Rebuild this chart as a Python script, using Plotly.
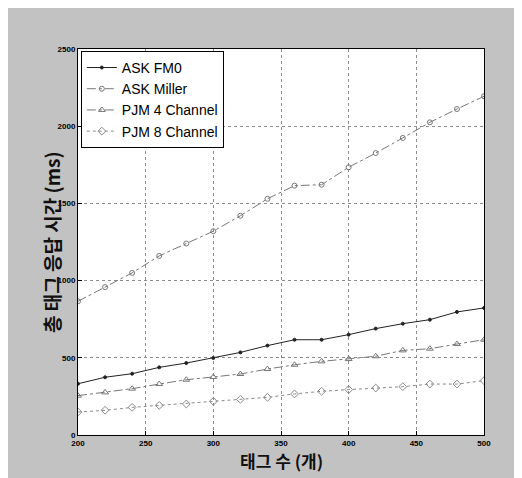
import plotly.graph_objects as go

tags = [200, 220, 240, 260, 280, 300, 320, 340, 360, 380, 400, 420, 440, 460, 480, 500]
ask_fm0 = [332, 374, 397, 438, 466, 499, 535, 579, 617, 617, 650, 689, 721, 747, 797, 823]
ask_miller = [866, 958, 1050, 1160, 1240, 1320, 1420, 1530, 1615, 1621, 1734, 1826, 1924, 2025, 2111, 2194]
pjm4 = [255, 276, 300, 330, 358, 376, 395, 427, 455, 477, 492, 510, 548, 559, 589, 617]
pjm8 = [149, 160, 179, 192, 201, 218, 231, 244, 266, 283, 294, 304, 313, 330, 330, 352]

x_ticks = [200, 250, 300, 350, 400, 450, 500]
y_ticks = [0, 500, 1000, 1500, 2000, 2500]

series = [
    ("ASK FM0", ask_fm0, "#222222", "solid", "circle", 3),
    ("ASK Miller", ask_miller, "#777777", "dashdot", "circle-open", 5),
    ("PJM 4 Channel", pjm4, "#777777", "dashdot", "triangle-up-open", 6),
    ("PJM 8 Channel", pjm8, "#8a8a8a", "dot", "diamond-open", 6),
]

fig = go.Figure()
for name, vals, col, dash, sym, size in series:
    fig.add_trace(go.Scatter(
        x=tags, y=vals, name=name, mode="lines+markers",
        line=dict(color=col, width=1, dash=dash),
        marker=dict(symbol=sym, size=size, color=col, line=dict(color=col, width=1)),
    ))

axis_common = dict(
    showline=True, linecolor="black", linewidth=1, mirror=True,
    ticks="inside", ticklen=4, tickcolor="black",
    showgrid=True, gridcolor="#8c8c8c", griddash="dot", gridwidth=1,
    tickfont=dict(family="Arial", size=8, color="black"),
    zeroline=False,
)

fig.update_layout(
    width=522, height=478,
    margin=dict(l=70, r=46, t=41, b=51),
    paper_bgcolor="#c2c2c2",
    plot_bgcolor="white",
    showlegend=True,
    legend=dict(
        x=0.007, y=0.995, xanchor="left", yanchor="top",
        bgcolor="white", bordercolor="black", borderwidth=1,
        font=dict(family="Arial", size=14, color="black"),
        tracegroupgap=0, itemwidth=30,
    ),
    xaxis=dict(range=[200, 500], tickvals=x_ticks,
               ticktext=["<b>%d</b>" % v for v in x_ticks], **axis_common),
    yaxis=dict(range=[0, 2500], tickvals=y_ticks,
               ticktext=["<b>%d</b>" % v for v in y_ticks], **axis_common),
    annotations=[
        dict(text="<b>태그 수 (개)</b>", xref="paper", yref="paper", x=0.5, y=0,
             xanchor="center", yanchor="middle", yshift=-25, showarrow=False,
             font=dict(family="Noto Sans CJK KR", size=17, color="#111111")),
        dict(text="<b>총 태그 응답 시간 (ms)</b>", xref="paper", yref="paper", x=0, y=0.5,
             xanchor="center", yanchor="middle", xshift=-27, textangle=-90, showarrow=False,
             font=dict(family="Noto Sans CJK KR", size=19, color="#111111")),
    ],
)

fig.write_html("out.html")
